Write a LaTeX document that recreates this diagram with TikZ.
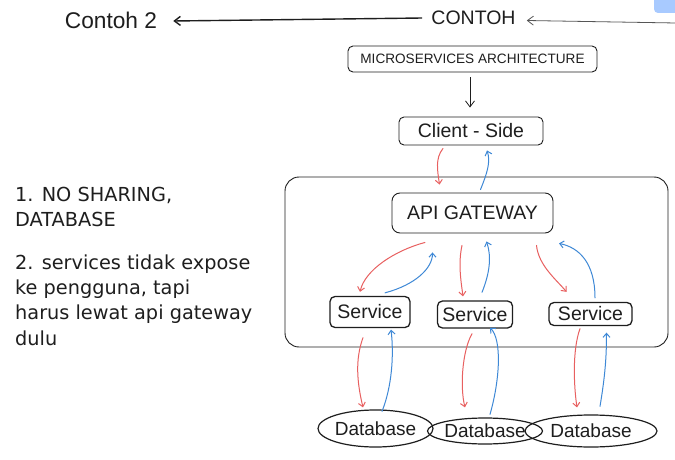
\documentclass[tikz,border=0pt]{standalone}
\usepackage{fontspec}
\setmainfont{Liberation Sans}
\newfontfamily\handfont{DejaVu Sans}
\usetikzlibrary{arrows.meta,calc,shapes.geometric}
\definecolor{ink}{RGB}{30,30,30}
\definecolor{redln}{RGB}{232,96,96}
\definecolor{blueln}{RGB}{62,136,214}
\definecolor{chip}{RGB}{168,202,255}
\definecolor{chipedge}{RGB}{80,130,230}
\begin{document}
\begin{tikzpicture}[x=1pt,y=-1pt,
  box/.style={draw=ink, line width=0.9pt, rounded corners=5pt, inner sep=0pt, text=ink,
              font=\fontsize{19.5}{22}\selectfont},
  svcbox/.style={box, line width=1.3pt},
  dbnode/.style={ellipse, draw=ink, line width=1.2pt, inner sep=0pt, text=ink,
              font=\fontsize{19}{22}\selectfont},
  plain/.style={inner sep=0pt, text=ink},
  note/.style={inner sep=0pt, anchor=west, text=ink, font=\handfont\fontsize{19.3}{22}\selectfont},
  redarr/.style={draw=redln, line width=1pt, line cap=round,
                 -{Straight Barb[length=4pt,width=7pt]}},
  bluearr/.style={draw=blueln, line width=1pt, line cap=round,
                 -{Straight Barb[length=4pt,width=7pt]}},
  inkarr/.style={draw=ink, line width=0.8pt, -{Straight Barb[length=6pt,width=9pt]}}
]
\useasboundingbox (0,0) rectangle (675,460);
\fill[white] (0,0) rectangle (675,460);

% top-right chip
\fill[chip, rounded corners=4pt] (654,-10) rectangle (690,13);
\draw[chipedge, line width=1pt] (675,-2) arc[start angle=0, end angle=-120, radius=6];

% titles
\node[plain, font=\fontsize{22.7}{26}\selectfont] (contoh2) at (111,20) {Contoh 2};
\node[plain, font=\fontsize{19.5}{22}\selectfont] (contoh) at (473.5,18) {CONTOH};
\coordinate (edge) at (676,23);

\draw[inkarr, line width=1.4pt] ([xshift=-9pt]contoh.west) -- ([xshift=16pt,yshift=-1pt]contoh2.east);
\draw[inkarr, draw=ink!75] (edge) -- ([xshift=11pt,yshift=-2.5pt]contoh.east);

% main nodes
\node[box, minimum width=249, minimum height=26, font=\fontsize{13.6}{16}\selectfont] (micro) at (472.5,59) {MICROSERVICES ARCHITECTURE};
\node[box, minimum width=144, minimum height=28] (client) at (471,131) {Client - Side};
\node[draw=ink, line width=0.9pt, rounded corners=14pt, minimum width=383, minimum height=170, inner sep=0pt] (frame) at (476.5,262) {};
\node[box, rounded corners=8pt, minimum width=161, minimum height=40] (api) at (472.5,213) {API GATEWAY};
\node[svcbox, minimum width=80, minimum height=31] (svc1) at (370,312) {Service};
\node[svcbox, minimum width=75, minimum height=27] (svc2) at (475,314.5) {Service};
\node[svcbox, minimum width=83, minimum height=23] (svc3) at (590.5,314) {Service};
\node[dbnode, minimum width=115, minimum height=37] (db1) at (375.5,428.5) {Database};
\node[dbnode, minimum width=110, minimum height=26] (db2) at (485,431) {Database};
\node[dbnode, minimum width=132, minimum height=32] (db3) at (591,431) {Database};

% connectors
\draw[inkarr] ([xshift=-2.5pt,yshift=-5pt]micro.south) -- ([xshift=-1pt,yshift=9pt]client.north);

\draw[redarr] ($(client.south)+(-28,3)$) .. controls +(-8,10) and +(-2,-14) .. ($(api.north)+(-33,-8)$);
\draw[bluearr] ($(api.north)+(8,-3)$) .. controls +(6,-15) and +(4,12) .. ($(client.south)+(16,5)$);

\draw[redarr] ($(api.south)+(-47.5,9)$) .. controls +(-30,8) and +(5,-22) .. ($(svc1.north)+(-10,-4)$);
\draw[bluearr] ($(svc1.north)+(15,-3)$) .. controls +(30,-8) and +(0,16) .. ($(api.south)+(-40,19)$);
\draw[redarr] ($(api.south)+(-10.5,12)$) .. controls +(-4,18) and +(-2,-15) .. ($(svc2.north)+(-12,-4)$);
\draw[bluearr] ($(svc2.north)+(7,-8)$) .. controls +(8,-20) and +(5,15) .. ($(api.south)+(14,8)$);
\draw[redarr] ($(api.south)+(64,12)$) .. controls +(2,20) and +(-10,-12) .. ($(svc3.north)+(-24,-10)$);
\draw[bluearr] ($(svc3.north)+(4.5,-4)$) .. controls +(0,-35) and +(20,4) .. ($(api.south)+(86.5,10)$);

\draw[redarr] ($(svc1.south)+(-7,9.5)$) .. controls +(-8,22) and +(-6,-25) .. ($(db1.north)+(-12.5,-2)$);
\draw[bluearr] ($(db1.north)+(6.5,2)$) .. controls +(10,-25) and +(3,25) .. ($(svc1.south)+(21,1.5)$);
\draw[redarr] ($(svc2.south)+(-3,5)$) .. controls +(-10,18) and +(-5,-20) .. ($(db2.north)+(-20,-10)$);
\draw[bluearr] ($(db2.north)+(5,-3)$) .. controls +(10,-35) and +(12,12) .. ($(svc2.south)+(15,-1)$);
\draw[redarr] ($(svc3.south)+(-10.5,2.5)$) .. controls +(-8,22) and +(-3,-20) .. ($(db3.north)+(-14,-7)$);
\draw[bluearr] ($(db3.north)+(9,-8)$) .. controls +(5,-30) and +(0,25) .. ($(svc3.south)+(16,6.5)$);

% notes
\node[note] (n1) at (15,195) {1. NO SHARING,};
\node[note] (n2) at (15,219) {DATABASE};
\node[note] (n3) at (15,264) {2. services tidak expose};
\node[note] (n4) at (15,289) {ke pengguna, tapi};
\node[note] (n5) at (15,314) {harus lewat api gateway};
\node[note] (n6) at (15,338) {dulu};
\end{tikzpicture}
\end{document}
